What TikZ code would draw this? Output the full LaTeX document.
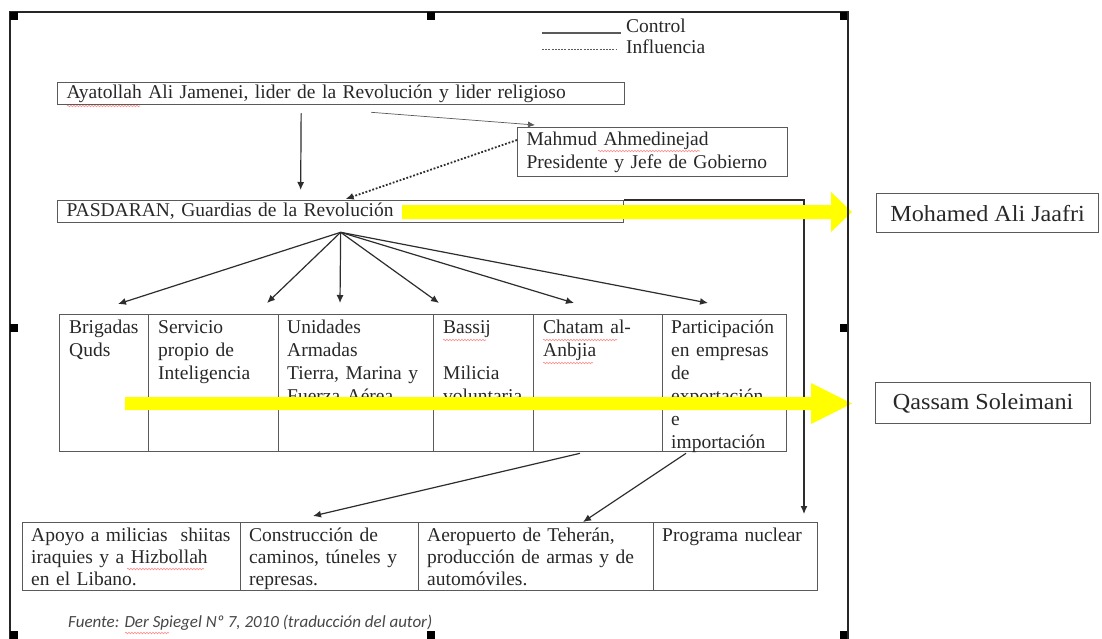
\documentclass[tikz,border=0pt]{standalone}
\usepackage{fontspec}
\setmainfont{Liberation Serif}
\newfontfamily\fuentefont{Carlito}
\newfontfamily\widefont[FakeStretch=1.05]{Liberation Serif}
\usetikzlibrary{arrows.meta,calc,decorations.pathmorphing}
\definecolor{boxgray}{RGB}{90,90,90}
\definecolor{textgray}{RGB}{40,40,40}
\definecolor{arrgray}{RGB}{45,45,45}
\definecolor{hiyellow}{RGB}{255,255,0}
\newcommand{\myfont}{\fontsize{19.5}{23}\selectfont}
\newcommand{\mybfont}{\fontsize{19.5}{22}\selectfont}
\newcommand{\myrfont}{\widefont\fontsize{23}{26}\selectfont}
\begin{document}
\begin{tikzpicture}[x=1pt,y=-1pt,
  box/.style={draw=boxgray, line width=1.3pt, rectangle, inner sep=0pt, anchor=north west},
  onebox/.style={box, inner xsep=9pt, align=left, font=\myfont, text=textgray},
  txt/.style={anchor=north west, inner sep=0pt, text width=150pt, align=left, font=\myfont, text=textgray},
  btxt/.style={anchor=north west, inner sep=0pt, text width=230pt, align=left, font=\mybfont, text=textgray},
  arr/.style={draw=arrgray, line width=1.2pt, -{Latex[length=8pt,width=7pt]}},
  handle/.style={fill=black},
  squig/.style={draw=red!75, line width=0.6pt, opacity=0.6, decorate, decoration={snake, amplitude=0.8pt, segment length=3pt}}
  ]
\useasboundingbox (0,0) rectangle (1102,638);
\clip (0,0) rectangle (1102,638);
\fill[white] (0,0) rectangle (1102,638);

% frame and handles
\draw[line width=1.5pt, black!85] (10,12) rectangle (848,645);
\foreach \hx/\hy in {10/12, 427/12, 840/12, 10/324, 840/324, 10/631, 427/631, 840/631}
  \fill[handle] (\hx,\hy) rectangle ++(8,8);

% legend
\node[anchor=base west, inner sep=0pt, font=\myfont, text=textgray] (ctrl) at (626,32) {Control};
\node[anchor=base west, inner sep=0pt, font=\myfont, text=textgray] (infl) at (626,53) {Influencia};
\coordinate (lega) at (542,33);
\coordinate (legb) at (542,49);
\draw[boxgray, line width=1.2pt] (lega) -- ($(ctrl.base west)+(-5,1)$);
\draw[boxgray, line width=1pt, dash pattern=on 2pt off 1.2pt] (legb) -- ($(infl.base west)+(-10,-4)$);

% top boxes
\node[onebox, minimum width=567pt, minimum height=22pt, text width=549pt] (aya) at (57,82)
  {Ayatollah Ali Jamenei, lider de la Revolución y lider religioso};
\node[onebox, minimum width=270pt, minimum height=49pt, text width=252pt] (mah) at (517,127)
  {Mahmud Ahmedinejad\\Presidente y Jefe de Gobierno};
\node[onebox, minimum width=566pt, minimum height=22pt, text width=548pt] (pas) at (57,200)
  {PASDARAN, Guardias de la Revolución};

% middle table
\node[box, minimum width=89pt,  minimum height=137pt] (m1) at (59,314) {};
\node[box, minimum width=130pt, minimum height=137pt] (m2) at (148,314) {};
\node[box, minimum width=155pt, minimum height=137pt] (m3) at (278,314) {};
\node[box, minimum width=100pt, minimum height=137pt] (m4) at (433,314) {};
\node[box, minimum width=129pt, minimum height=137pt] (m5) at (533,314) {};
\node[box, minimum width=124pt, minimum height=137pt] (m6) at (662,314) {};
\node[txt] (m1t) at ($(m1.north west)+(10,3)$) {\strut Brigadas\\Quds};
\node[txt] (m2t) at ($(m2.north west)+(10,3)$) {\strut Servicio\\propio de\\Inteligencia};
\node[txt] (m3t) at ($(m3.north west)+(9,3)$) {\strut Unidades\\Armadas\\Tierra, Marina y\\Fuerza Aérea};
\node[txt] (m4t) at ($(m4.north west)+(10,3)$) {\strut Bassij\\\strut\\Milicia\\voluntaria};
\node[txt] (m5t) at ($(m5.north west)+(10,3)$) {\strut Chatam al-\\Anbjia};
\node[txt] (m6t) at ($(m6.north west)+(9,3)$) {\strut Participación\\en empresas\\de\\exportación\\e\\importación};

% bottom table
\node[box, minimum width=218pt, minimum height=68pt] (b1) at (22,522) {};
\node[box, minimum width=178pt, minimum height=68pt] (b2) at (240,522) {};
\node[box, minimum width=235pt, minimum height=68pt] (b3) at (418,522) {};
\node[box, minimum width=164pt, minimum height=68pt] (b4) at (653,522) {};
\node[btxt] (b1t) at ($(b1.north west)+(9,4)$) {\strut Apoyo a milicias\ \ shiitas\\iraquies y a Hizbollah\\en el Libano.};
\node[btxt] (b2t) at ($(b2.north west)+(9,4)$) {\strut Construcción de\\caminos, túneles y\\represas.};
\node[btxt] (b3t) at ($(b3.north west)+(9,4)$) {\strut Aeropuerto de Teherán,\\producción de armas y de\\automóviles.};
\node[btxt] (b4t) at ($(b4.north west)+(9,4)$) {\strut Programa nuclear};

% connectors
\draw[arr] ($(aya.south)+(-40,8)$) -- ($(pas.north)+(-40,-10)$);
\draw[draw=boxgray, line width=0.7pt, -{Latex[length=7pt,width=6pt]}] ($(aya.south)+(30,7)$) -- ($(mah.north west)+(18,-2)$);
\draw[draw=arrgray, line width=1.8pt, dash pattern=on 1.8pt off 1.8pt, -{Latex[length=8pt,width=7pt]}] ($(mah.north west)+(0,13)$) -- ($(pas.north)+(5,-1)$);

\coordinate (fan) at ($(pas.south)+(0,9)$);
\coordinate (f1) at (118,304);
\coordinate (f2) at (267,303);
\coordinate (f3) at (340,303);
\coordinate (f4) at (439,303);
\coordinate (f5) at (574,303);
\coordinate (f6) at (708,303);
\foreach \t in {f1,f2,f3,f4,f5,f6} \draw[arr] (fan) -- (\t);

\draw[arr] (pas.north east) -| ($(b4.north west)+(151,-8)$);
\draw[arr] ($(m5.south west)+(47,1)$) -- ($(b2.north west)+(73,-6)$);
\draw[arr] ($(m6.south west)+(24,1)$) -- ($(b3.north west)+(165,0)$);

% spell-check underlines
\draw[squig] (67,106) -- (140,106);
\draw[squig] (598,151) -- (700,151);
\draw[squig] (443,340) -- (486,340);
\draw[squig] (543,340) -- (617,340);
\draw[squig] (543,363) -- (593,363);
\draw[squig] (127,569) -- (204,569);
\draw[squig] (125,633) -- (169,633);

% yellow arrows
\fill[hiyellow] (402,205) -- (831,205) -- (831,192) -- (852,212) -- (831,232) -- (831,219) -- (402,219) -- cycle;
\fill[hiyellow] (125,397) -- (811,397) -- (811,383) -- (852,403.5) -- (811,424) -- (811,410) -- (125,410) -- cycle;
\draw[line width=1.5pt, black!85] (848,12) -- (848,645);

% right boxes
\node[box, minimum width=222pt, minimum height=39pt, font=\myrfont, text=textgray] (jaafri) at (876,193) {Mohamed Ali Jaafri};
\node[box, minimum width=215pt, minimum height=41pt, font=\myrfont, text=textgray] (soleimani) at (875,382) {Qassam Soleimani};

% source
\node[anchor=base west, inner sep=0pt, font=\fuentefont\itshape\fontsize{17}{20}\selectfont, text=black!72] (src) at (68,627)
  {Fuente: Der Spiegel Nº 7, 2010 (traducción del autor)};
\end{tikzpicture}
\end{document}
